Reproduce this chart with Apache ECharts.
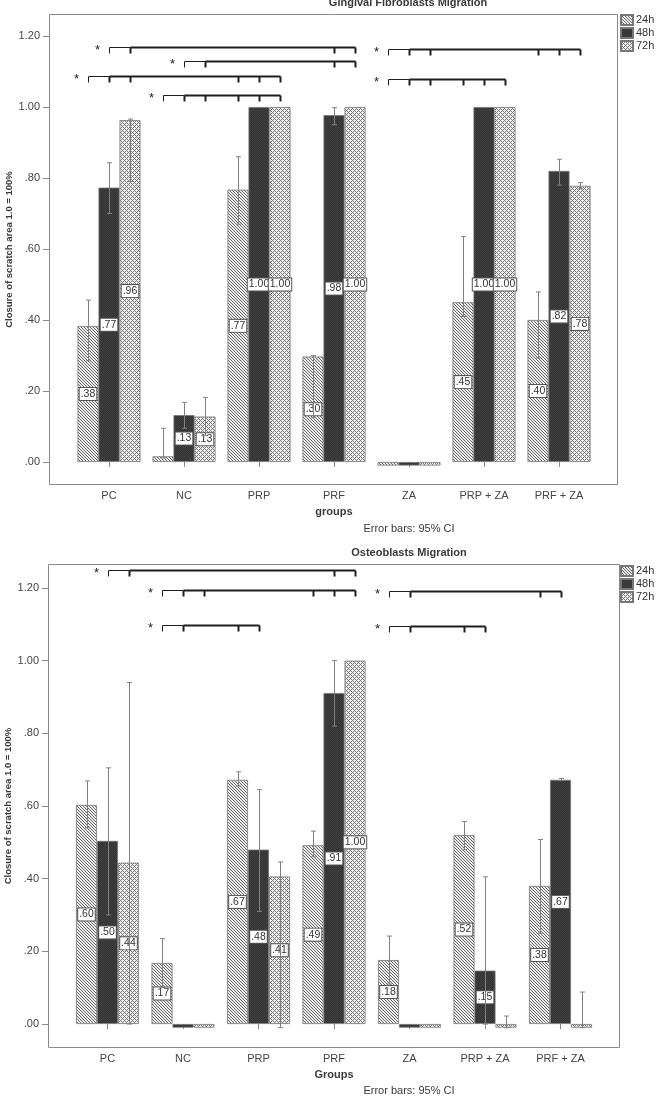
<!DOCTYPE html>
<html><head><meta charset="utf-8">
<script src="https://cdn.jsdelivr.net/npm/echarts@6/dist/echarts.min.js"></script>
<style>html,body{margin:0;padding:0;background:#fff}#c{width:656px;height:1096px}</style>
</head><body><div id="c"></div>
<script>
// ---------------- DATA ----------------
const categories = ['PC', 'NC', 'PRP', 'PRF', 'ZA', 'PRP + ZA', 'PRF + ZA'];
const seriesNames = ['24h', '48h', '72h'];
const yTicks = [0, 0.2, 0.4, 0.6, 0.8, 1.0, 1.2];

// Chart 1: Gingival Fibroblasts Migration (means)
const gf24 = [0.383, 0.016, 0.767, 0.297, -0.01, 0.45, 0.40];
const gf48 = [0.773, 0.132, 1.00, 0.977, -0.01, 1.00, 0.82];
const gf72 = [0.963, 0.128, 1.00, 1.00, -0.01, 1.00, 0.778];
// 95% CI low / high (null = not drawn)
const gf24Lo = [0.285, 0.012, 0.67, 0.125, null, 0.41, 0.293];
const gf24Hi = [0.456, 0.095, 0.86, 0.30, null, 0.635, 0.479];
const gf48Lo = [0.70, 0.095, null, 0.95, null, null, 0.78];
const gf48Hi = [0.843, 0.168, null, 0.998, null, null, 0.853];
const gf72Lo = [0.79, 0.075, null, null, null, null, 0.77];
const gf72Hi = [0.966, 0.182, null, null, null, null, 0.787];

// Chart 2: Osteoblasts Migration (means)
const ob24 = [0.603, 0.168, 0.672, 0.492, 0.176, 0.52, 0.38];
const ob48 = [0.504, -0.01, 0.48, 0.911, -0.01, 0.147, 0.672];
const ob72 = [0.444, -0.01, 0.406, 1.00, -0.01, -0.01, -0.01];
const ob24Lo = [0.54, 0.10, 0.655, 0.46, 0.11, 0.48, 0.25];
const ob24Hi = [0.669, 0.235, 0.694, 0.531, 0.242, 0.557, 0.508];
const ob48Lo = [0.30, null, 0.31, 0.82, null, 0.0, 0.67];
const ob48Hi = [0.705, null, 0.645, 1.00, null, 0.405, 0.676];
const ob72Lo = [0.0, null, -0.01, null, null, -0.01, -0.01];
const ob72Hi = [0.94, null, 0.446, null, null, 0.022, 0.088];

// Significance brackets: level (y value) and [category, series] ticks
const gfBrackets = [
  { level: 1.169, ticks: [[0,1],[0,2],[3,1],[3,2]] },
  { level: 1.130, ticks: [[1,1],[1,2],[3,1],[3,2]] },
  { level: 1.087, ticks: [[0,0],[0,1],[0,2],[2,0],[2,1],[2,2]] },
  { level: 1.034, ticks: [[1,0],[1,1],[1,2],[2,0],[2,1],[2,2]] },
  { level: 1.163, ticks: [[4,0],[4,1],[4,2],[6,0],[6,1],[6,2]] },
  { level: 1.079, ticks: [[4,0],[4,1],[4,2],[5,0],[5,1],[5,2]] }
];
const obBrackets = [
  { level: 1.250, ticks: [[0,1],[0,2],[3,1],[3,2]] },
  { level: 1.195, ticks: [[1,0],[1,1],[1,2],[3,0],[3,1],[3,2]] },
  { level: 1.098, ticks: [[1,0],[1,1],[2,0],[2,1]] },
  { level: 1.192, ticks: [[4,0],[4,1],[6,0],[6,1]] },
  { level: 1.096, ticks: [[4,0],[4,1],[5,0],[5,1]] }
];

// ---------------- STYLE ----------------
const FONT = 'Liberation Sans, Arial, sans-serif';
const BAR_W = 21;
const AXIS_C = '#8a8a8a';
const TEXT_C = '#3a3a3a';

function makePattern(size, fn) {
  const c = document.createElement('canvas');
  c.width = c.height = size;
  const ctx = c.getContext('2d');
  const img = ctx.createImageData(size, size);
  for (let y = 0; y < size; y++) for (let x = 0; x < size; x++) {
    const v = fn(x, y), i = (y * size + x) * 4;
    img.data[i] = img.data[i+1] = img.data[i+2] = v; img.data[i+3] = 255;
  }
  ctx.putImageData(img, 0, 0);
  return c;
}
const mod = (a, n) => ((a % n) + n) % n;
const hatch = { image: makePattern(3, (x, y) => mod(x - y, 3) === 0 ? 105 : 236), repeat: 'repeat' };
const dark = { image: makePattern(2, (x, y) => (x + y) % 2 ? 52 : 62), repeat: 'repeat' };
const cross = { image: makePattern(4, (x, y) => (mod(x + y, 4) === 0 || mod(x - y, 4) === 0) ? 120 : 240), repeat: 'repeat' };
const fills = [hatch, dark, cross];

const fmt = v => v.toFixed(2).replace(/^0\./, '.').replace(/^-0\./, '-.');

function barSeries(gi, si, vals) {
  return {
    type: 'bar', name: seriesNames[si], xAxisIndex: gi, yAxisIndex: gi,
    barWidth: BAR_W, barGap: '0%', z: 2,
    data: vals.map(v => ({ value: v, label: { show: v > 0.05 } })),
    itemStyle: { color: fills[si], borderColor: '#777', borderWidth: 0.8 },
    label: {
      show: true, position: 'inside', formatter: p => fmt(p.value),
      backgroundColor: '#fff', borderColor: '#555', borderWidth: 1,
      padding: [1, 1, 0, 1], fontSize: 10.5, fontFamily: FONT, color: '#333'
    }
  };
}

function errSeries(gi, los, his) {
  const data = [];
  los.forEach((lo, s) => lo.forEach((l, c) => {
    if (l != null) data.push([c, l, his[s][c], s]);
  }));
  return {
    type: 'custom', xAxisIndex: gi, yAxisIndex: gi, z: 3, clip: false,
    encode: { x: 0, y: [1, 2] }, silent: true,
    data,
    renderItem(params, api) {
      const c = api.value(0), s = api.value(3);
      const x = Math.round(api.coord([c, 0])[0] + (s - 1) * BAR_W) + 0.5;
      const yl = api.coord([c, api.value(1)])[1];
      const yh = api.coord([c, api.value(2)])[1];
      const st = { stroke: '#808080', lineWidth: 1 };
      return { type: 'group', children: [
        { type: 'line', shape: { x1: x, y1: yl, x2: x, y2: yh }, style: st },
        { type: 'line', shape: { x1: x - 2.5, y1: yh, x2: x + 2.5, y2: yh }, style: st },
        { type: 'line', shape: { x1: x - 2.5, y1: yl, x2: x + 2.5, y2: yl }, style: st }
      ]};
    }
  };
}

function bracketSeries(gi, brackets) {
  return {
    type: 'custom', xAxisIndex: gi, yAxisIndex: gi, z: 4, clip: false, silent: true,
    encode: { x: 0, y: 1 },
    data: brackets.map(b => [b.ticks[0][0], b.level]),
    renderItem(params, api) {
      const b = brackets[params.dataIndex];
      const y = Math.round(api.coord([0, b.level])[1]) + 0.5;
      const xs = b.ticks.map(t => Math.round(api.coord([t[0], 0])[0] + (t[1] - 1) * BAR_W) + 0.5);
      const col = '#1e1e1e';
      const ch = [];
      ch.push({ type: 'line', shape: { x1: xs[0], y1: y, x2: xs[1], y2: y }, style: { stroke: col, lineWidth: 1 } });
      ch.push({ type: 'line', shape: { x1: xs[1], y1: y, x2: xs[xs.length - 1], y2: y }, style: { stroke: col, lineWidth: 2 } });
      xs.forEach((x, i) => ch.push({ type: 'line',
        shape: { x1: x, y1: y, x2: x, y2: y + 6 },
        style: { stroke: col, lineWidth: i === 0 ? 1 : 2 } }));
      ch.push({ type: 'text', x: xs[0] - 12, y: y + 3,
        style: { text: '*', font: '13px ' + FONT, fill: '#222', align: 'center', verticalAlign: 'middle' } });
      return { type: 'group', children: ch };
    }
  };
}

const grids = [
  { left: 71.5, right: 59.5, top: 14, bottom: 611, yMin: -0.0648, yMax: 1.262, off: 22.5, xName: 'groups' },
  { left: 69.75, right: 57.75, top: 564, bottom: 48, yMin: -0.066, yMax: 1.266, off: 21.75, xName: 'Groups' }
];

const option = {
  animation: false,
  textStyle: { fontFamily: FONT },
  grid: grids.map(g => ({ left: g.left, right: g.right, top: g.top, bottom: g.bottom, containLabel: false, outerBoundsMode: 'none' })),
  xAxis: grids.map((g, i) => ({
    type: 'category', gridIndex: i, data: categories,
    name: g.xName, nameLocation: 'middle', nameGap: 21, nameMoveOverlap: false,
    nameTextStyle: { fontWeight: 'bold', fontSize: 11, color: TEXT_C, fontFamily: FONT },
    axisLine: { show: false },
    axisTick: { show: true, alignWithLabel: true, length: 5, lineStyle: { color: AXIS_C } },
    axisLabel: { margin: 5, fontSize: 11, color: '#444', fontFamily: FONT },
    splitLine: { show: false }
  })),
  yAxis: grids.map((g, i) => ({
    type: 'value', gridIndex: i, min: g.yMin, max: g.yMax, offset: g.off,
    name: 'Closure of scratch area 1.0 = 100%', nameLocation: 'middle', nameRotate: 90, nameGap: 35,
    nameMoveOverlap: false,
    nameTextStyle: { fontWeight: 'bold', fontSize: 9.5, color: TEXT_C, fontFamily: FONT },
    axisLine: { show: false },
    axisTick: { show: true, length: 6, customValues: yTicks, lineStyle: { color: AXIS_C } },
    axisLabel: { customValues: yTicks, formatter: v => fmt(v), margin: 9, fontSize: 11, color: '#444', fontFamily: FONT },
    splitLine: { show: false }
  })),
  legend: [14, 565].map(top => ({
    data: seriesNames, orient: 'vertical', left: 620, top, padding: 0,
    itemWidth: 12, itemHeight: 10, itemGap: 1, selectedMode: false,
    icon: 'rect',
    textStyle: { fontSize: 11, color: '#333', lineHeight: 10, padding: [0, 0, 0, -2], fontFamily: FONT }
  })),
  graphic: [
    { type: 'rect', silent: true, shape: { x: 49.5, y: 14.5, width: 568, height: 470 }, style: { fill: 'none', stroke: AXIS_C, lineWidth: 1 } },
    { type: 'rect', silent: true, shape: { x: 48.5, y: 564.5, width: 571, height: 483 }, style: { fill: 'none', stroke: AXIS_C, lineWidth: 1 } },
    { type: 'text', silent: true, x: 408, y: 3, style: { text: 'Gingival Fibroblasts Migration', font: 'bold 11px ' + FONT, fill: TEXT_C, align: 'center', verticalAlign: 'middle', textAlign: 'center', textVerticalAlign: 'middle' } },
    { type: 'text', silent: true, x: 409, y: 553, style: { text: 'Osteoblasts Migration', font: 'bold 11px ' + FONT, fill: TEXT_C, align: 'center', verticalAlign: 'middle', textAlign: 'center', textVerticalAlign: 'middle' } },
    { type: 'text', silent: true, x: 409, y: 529, style: { text: 'Error bars: 95% CI', font: '11px ' + FONT, fill: TEXT_C, align: 'center', verticalAlign: 'middle', textAlign: 'center', textVerticalAlign: 'middle' } },
    { type: 'text', silent: true, x: 409, y: 1091, style: { text: 'Error bars: 95% CI', font: '11px ' + FONT, fill: TEXT_C, align: 'center', verticalAlign: 'middle', textAlign: 'center', textVerticalAlign: 'middle' } }
  ],
  series: [
    barSeries(0, 0, gf24), barSeries(0, 1, gf48), barSeries(0, 2, gf72),
    errSeries(0, [gf24Lo, gf48Lo, gf72Lo], [gf24Hi, gf48Hi, gf72Hi]),
    bracketSeries(0, gfBrackets),
    barSeries(1, 0, ob24), barSeries(1, 1, ob48), barSeries(1, 2, ob72),
    errSeries(1, [ob24Lo, ob48Lo, ob72Lo], [ob24Hi, ob48Hi, ob72Hi]),
    bracketSeries(1, obBrackets)
  ]
};

const chart = echarts.init(document.getElementById('c'), null, { renderer: 'canvas' });
chart.setOption(option);
</script>
</body></html>
